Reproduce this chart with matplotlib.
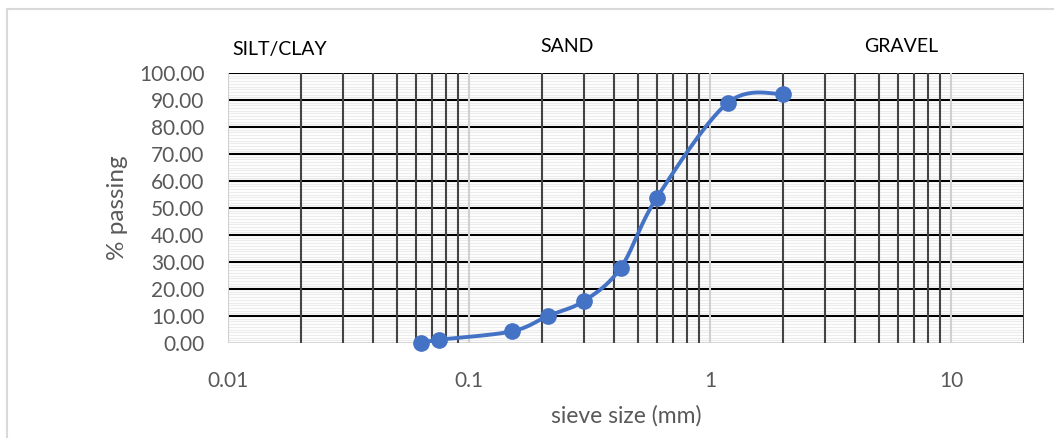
import numpy as np
import matplotlib.pyplot as plt
from matplotlib.patches import Rectangle

# sieve analysis results
sieve_mm = [0.063, 0.075, 0.15, 0.212, 0.3, 0.425, 0.6, 1.18, 2.0]
passing = [0.0, 1.2, 4.3, 10.0, 15.6, 27.8, 53.8, 88.9, 92.3]

zones = ["SILT/CLAY", "SAND", "GRAVEL"]
y_ticks = [0, 10, 20, 30, 40, 50, 60, 70, 80, 90, 100]
x_ticks = [0.01, 0.1, 1, 10]

plt.rcParams['font.family'] = ['Lato', 'DejaVu Sans']

fig = plt.figure(figsize=(10.54, 4.38), dpi=100)
ax = fig.add_axes([228 / 1054, 1 - 343 / 438, (1024 - 228) / 1054, (343 - 73) / 438])

ax.set_xscale('log')
ax.set_xlim(0.01, 20)
ax.set_ylim(0, 100)

# light minor horizontals every 1 %
for v in range(1, 100):
    if v % 10:
        ax.axhline(v, color='#ececec', lw=0.8, zorder=1)
# black major horizontals
for v in y_ticks[1:]:
    ax.axhline(v, color='black', lw=1.5, zorder=2)
ax.axhline(0, color='#d0d0d0', lw=1.2, zorder=2)

# dark verticals at 2..9 of each decade, light ones at the decades
for dec in [0.01, 0.1, 1, 10]:
    for k in range(2, 10):
        xv = dec * k
        if xv <= 20:
            ax.axvline(xv, color='#444444', lw=1.5, zorder=3)
for xv in x_ticks:
    ax.axvline(xv, color='#d0d0d0', lw=1.5, zorder=4)

for s in ax.spines.values():
    s.set_visible(False)

ax.set_yticks(y_ticks)
ax.set_yticklabels([f"{v:.2f}" for v in y_ticks])
ax.set_xticks(x_ticks)
ax.set_xticklabels([str(v) for v in x_ticks])
ax.minorticks_off()
ax.tick_params(length=0, labelsize=15, colors='#595959')
ax.tick_params(axis='x', pad=20)
ax.tick_params(axis='y', pad=17)

ax.set_ylabel('% passing', fontsize=17.5, color='#595959', labelpad=8)
ax.set_xlabel('sieve size (mm)', fontsize=16.5, color='#595959', labelpad=10)

# smoothed line (bezier through the points, built in screen space)
fig.canvas.draw()
pts = ax.transData.transform(np.column_stack([sieve_mm, passing]))
n = len(pts)
curve = []
t = np.linspace(0, 1, 30)[:, None]
for i in range(n - 1):
    p0 = pts[max(i - 1, 0)]
    p1 = pts[i]
    p2 = pts[i + 1]
    p3 = pts[min(i + 2, n - 1)]
    c1 = p1 + (p2 - p0) / 6
    c2 = p2 - (p3 - p1) / 6
    seg = ((1 - t) ** 3) * p1 + 3 * ((1 - t) ** 2) * t * c1 + 3 * (1 - t) * t ** 2 * c2 + t ** 3 * p2
    curve.append(seg)
curve = np.vstack(curve)
curve_data = ax.transData.inverted().transform(curve)
ax.plot(curve_data[:, 0], curve_data[:, 1], color='#4472C4', lw=2.8, zorder=5,
        solid_capstyle='round', clip_on=False)
ax.plot(sieve_mm, passing, 'o', color='#4472C4', ms=11, zorder=6, clip_on=False)

# soil zone labels above the grid
fig.text(232 / 1054, 1 - 50 / 438, zones[0], fontsize=14, va='center', ha='left')
fig.text(567 / 1054, 1 - 46 / 438, zones[1], fontsize=14, va='center', ha='center')
fig.text(901 / 1054, 1 - 46 / 438, zones[2], fontsize=14, va='center', ha='center')

# outer chart border
fig.patches.append(Rectangle((7 / 1054, -0.01), 1.1, 1 - 9 / 438 + 0.01,
                             transform=fig.transFigure, fill=False,
                             edgecolor='#d9d9d9', lw=1.5))

fig.savefig('out.png', dpi=100)
